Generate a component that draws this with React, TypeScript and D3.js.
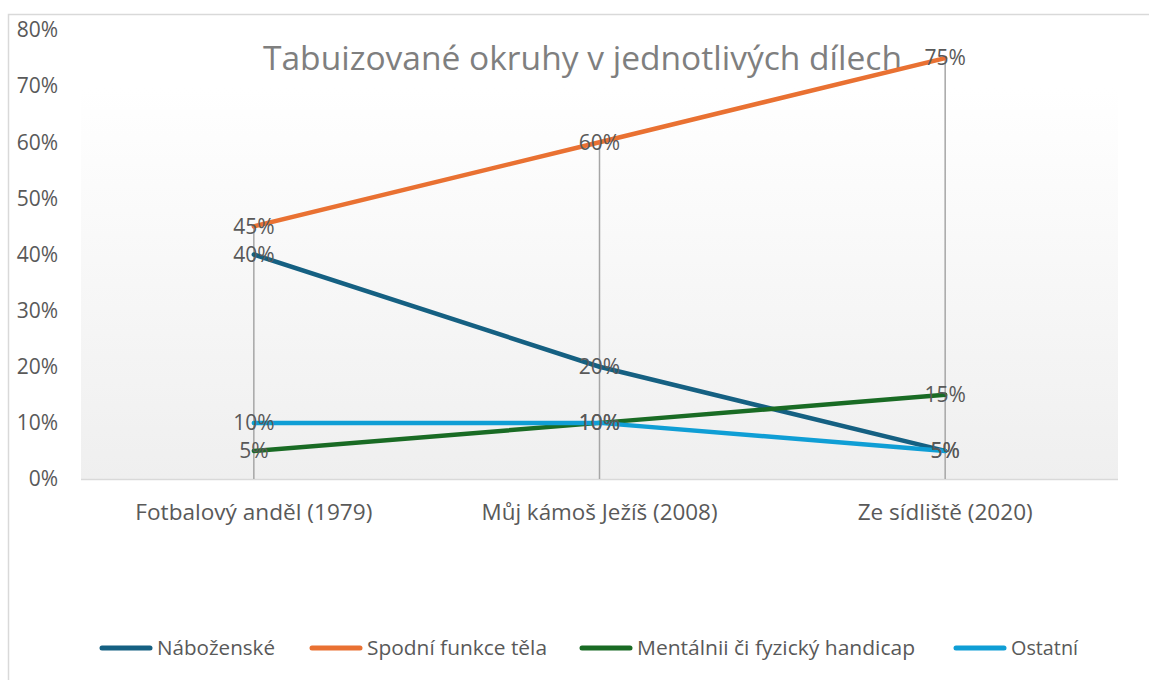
import React from 'react';
import * as d3 from 'd3';

const categories = ['Fotbalový anděl (1979)', 'Můj kámoš Ježíš (2008)', 'Ze sídliště (2020)'];
const seriesNames = ['Náboženské', 'Spodní funkce těla', 'Mentálnii či fyzický handicap', 'Ostatní'];
const nabozenske = [0.4, 0.2, 0.05];
const spodniFunkce = [0.45, 0.6, 0.75];
const handicap = [0.05, 0.1, 0.15];
const ostatni = [0.1, 0.1, 0.05];
const yTicks = [0, 0.1, 0.2, 0.3, 0.4, 0.5, 0.6, 0.7, 0.8];
const title = 'Tabuizované okruhy v jednotlivých dílech';

const colors = ['#156082', '#E97132', '#196B24', '#0F9ED5'];
const FONT = '"Open Sans", "Noto Sans", sans-serif';

const App: React.FC = () => {
  const W = 1149;
  const H = 680;
  const plot = { left: 81, right: 1118, top: 88, bottom: 479 };

  const seriesValues = [nabozenske, spodniFunkce, handicap, ostatni];

  const x = d3.scalePoint<string>().domain(categories).range([plot.left, plot.right]).padding(0.5);
  const y = d3.scaleLinear().domain([0, 0.8]).range([479, 30]);

  const line = d3
    .line<number>()
    .x((_, i) => x(categories[i]) as number)
    .y((d) => y(d));

  const pct = d3.format('.0%');

  // legend layout (start x of each item's line, text width)
  const legendX = [100, 310, 580, 954];
  const legendW = [118, 180, 278, 67];
  const legendY = 648;
  // measured widths of the category labels
  const catW = [237, 236, 175];

  return (
    <svg width={W} height={H} style={{ position: 'absolute', left: 0, top: 0 }} fontFamily={FONT}>
      <defs>
        <linearGradient id="plotBg" x1="0" y1="0" x2="0" y2="1">
          <stop offset="0%" stopColor="#ffffff" />
          <stop offset="100%" stopColor="#efefef" />
        </linearGradient>
      </defs>
      <rect x={0} y={0} width={W} height={H} fill="#fff" />
      <rect x={8.5} y={14.5} width={W + 20} height={H + 20} fill="none" stroke="#d9d9d9" strokeWidth={1.5} />

      {/* plot area */}
      <rect
        x={plot.left}
        y={plot.top}
        width={plot.right - plot.left}
        height={plot.bottom - plot.top}
        fill="url(#plotBg)"
      />
      <line x1={plot.left} x2={plot.right} y1={y(0) + 0.5} y2={y(0) + 0.5} stroke="#d9d9d9" strokeWidth={1.5} />

      {/* title */}
      <text
        x={582.5}
        y={70}
        textAnchor="middle"
        fontSize={33}
        fill="#7f7f7f"
        textLength={639}
        lengthAdjust="spacingAndGlyphs"
      >
        {title}
      </text>

      {/* y axis labels */}
      {yTicks.map((t) => (
        <text key={t} x={58} y={y(t)} dy="0.35em" textAnchor="end" fontSize={21} fill="#595959">
          {pct(t)}
        </text>
      ))}

      {/* x axis labels */}
      {categories.map((c, i) => (
        <text
          key={c}
          x={x(c)}
          y={520}
          textAnchor="middle"
          fontSize={21.5}
          fill="#595959"
          textLength={catW[i]}
          lengthAdjust="spacingAndGlyphs"
        >
          {c}
        </text>
      ))}

      {/* drop lines */}
      {categories.map((c, i) => {
        const maxV = d3.max(seriesValues, (s) => s[i]) as number;
        return (
          <line
            key={c}
            x1={x(c)}
            x2={x(c)}
            y1={y(maxV)}
            y2={y(0)}
            stroke="#a6a6a6"
            strokeWidth={1.5}
          />
        );
      })}

      {/* series lines */}
      {seriesValues.map((s, si) => (
        <path
          key={seriesNames[si]}
          d={line(s) as string}
          fill="none"
          stroke={colors[si]}
          strokeWidth={4.5}
          strokeLinecap="round"
          strokeLinejoin="round"
        />
      ))}

      {/* data labels */}
      {seriesValues.map((s, si) =>
        s.map((v, i) => (
          <text
            key={`${si}-${i}`}
            x={x(categories[i])}
            y={y(v)}
            dy="0.35em"
            textAnchor="middle"
            fontSize={21}
            fill="#595959"
          >
            {pct(v)}
          </text>
        ))
      )}

      {/* legend */}
      {seriesNames.map((n, i) => (
        <g key={n} transform={`translate(${legendX[i]},${legendY})`}>
          <line x1={2} x2={50} y1={0} y2={0} stroke={colors[i]} strokeWidth={5} strokeLinecap="round" />
          <text
            x={57}
            y={0}
            dy="0.35em"
            fontSize={20}
            fill="#595959"
            textLength={legendW[i]}
            lengthAdjust="spacingAndGlyphs"
          >
            {n}
          </text>
        </g>
      ))}
    </svg>
  );
};

export default App;
